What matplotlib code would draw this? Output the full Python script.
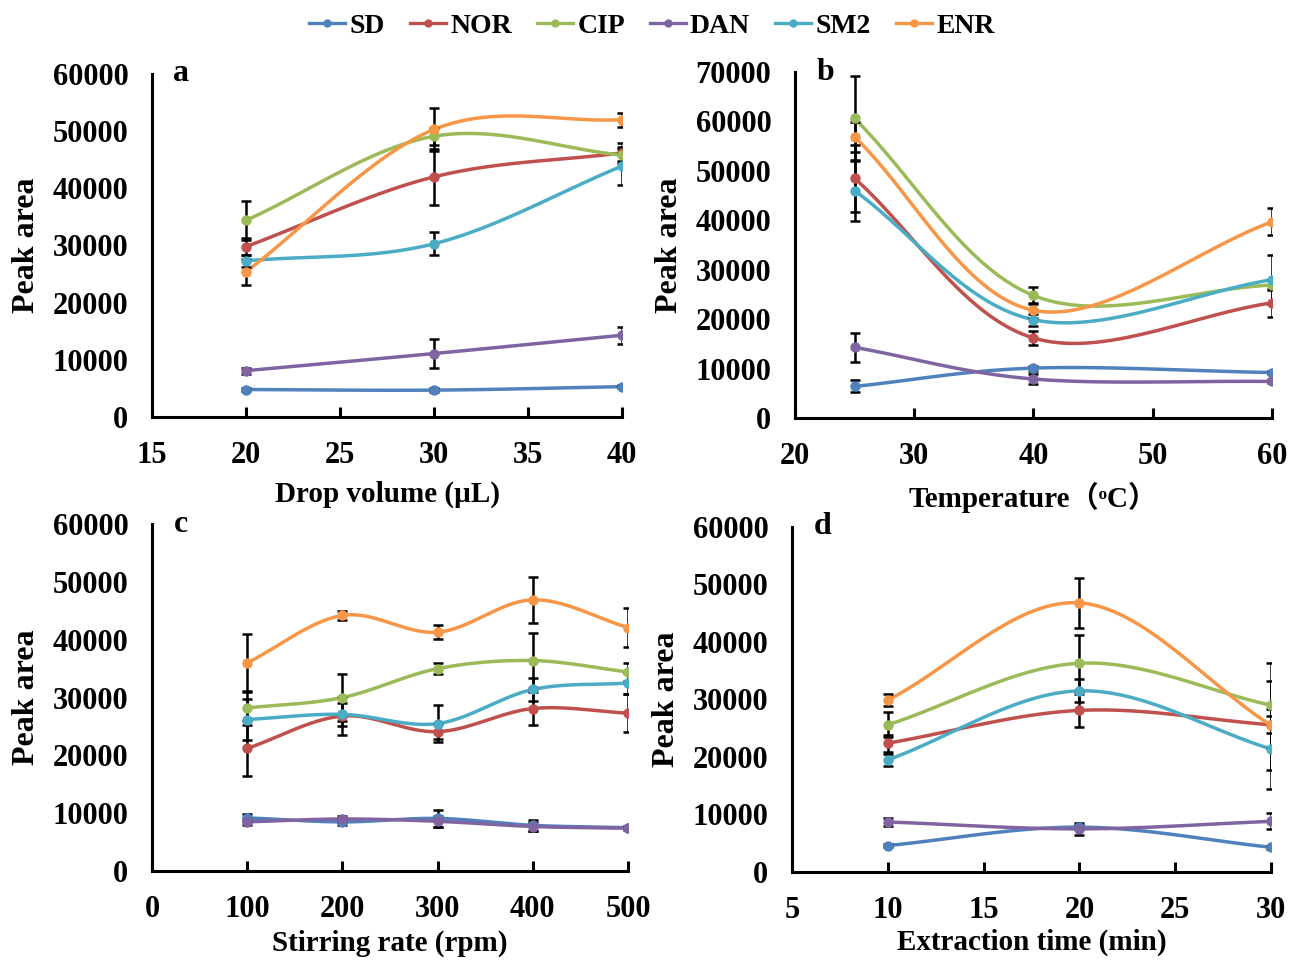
import numpy as np
import matplotlib
matplotlib.use('Agg')
import matplotlib.pyplot as plt
from matplotlib.lines import Line2D

plt.rcParams['font.family'] = ['Liberation Serif', 'Noto Sans CJK SC', 'DejaVu Serif']
plt.rcParams['font.weight'] = 'bold'

#---datos---#
compuestos = ['SD', 'NOR', 'CIP', 'DAN', 'SM2', 'ENR']
colores = ['#4F81BD', '#C0504D', '#9BBB59', '#8064A2', '#4BACC6', '#F79646']

# a: volumen de gota
x_vol = [20, 30, 40]
vol_vals = {
    'SD':  [4800, 4700, 5300],
    'NOR': [29800, 42000, 46200],
    'CIP': [34400, 49100, 45800],
    'DAN': [8100, 11100, 14300],
    'SM2': [27300, 30300, 43900],
    'ENR': [25400, 50300, 52000],
}
vol_err = {
    'SD':  [300, 300, 300],
    'NOR': [1500, 4900, 1800],
    'CIP': [3400, 1500, 1000],
    'DAN': [500, 2600, 1500],
    'SM2': [1000, 2000, 3400],
    'ENR': [2300, 3700, 1200],
}

# b: temperatura
x_temp = [25, 40, 60]
temp_vals = {
    'SD':  [6400, 10100, 9200],
    'NOR': [48500, 16200, 23300],
    'CIP': [60600, 24800, 26900],
    'DAN': [14300, 7900, 7400],
    'SM2': [46000, 19900, 28000],
    'ENR': [56900, 21800, 39700],
}
temp_err = {
    'SD':  [1200, 500, 300],
    'NOR': [6800, 1500, 2800],
    'CIP': [8500, 1800, 1000],
    'DAN': [3000, 1000, 400],
    'SM2': [6200, 1200, 4900],
    'ENR': [3000, 1500, 2700],
}

# c: velocidad de agitacion
x_agit = [100, 200, 300, 400, 500]
agit_vals = {
    'SD':  [9200, 8500, 9100, 7900, 7500],
    'NOR': [21200, 26800, 24100, 28100, 27300],
    'CIP': [28200, 30000, 35000, 36400, 34400],
    'DAN': [8500, 9000, 8600, 7700, 7400],
    'SM2': [26200, 27100, 25500, 31400, 32500],
    'ENR': [36000, 44200, 41300, 46900, 42100],
}
agit_err = {
    'SD':  [600, 500, 1500, 1000, 300],
    'NOR': [4800, 3300, 1300, 2900, 3300],
    'CIP': [3000, 4000, 1000, 4800, 1500],
    'DAN': [600, 500, 1000, 800, 300],
    'SM2': [3500, 2000, 3200, 2000, 1800],
    'ENR': [5000, 800, 1200, 4000, 3400],
}

# d: tiempo de extraccion
x_tiempo = [10, 20, 30]
tiempo_vals = {
    'SD':  [4600, 7800, 4300],
    'NOR': [22400, 28100, 25600],
    'CIP': [25600, 36300, 29000],
    'DAN': [8700, 7500, 8800],
    'SM2': [19500, 31500, 21400],
    'ENR': [29900, 46800, 25500],
}
tiempo_err = {
    'SD':  [300, 300, 300],
    'NOR': [1500, 2800, 1500],
    'CIP': [2200, 4900, 7400],
    'DAN': [700, 1000, 1400],
    'SM2': [1000, 2000, 6900],
    'ENR': [1000, 4400, 7700],
}

paneles = [
    ('a', x_vol, vol_vals, vol_err, (15, 40), [15, 20, 25, 30, 35, 40], 60000, 'Drop volume (\u00b5L)'),
    ('b', x_temp, temp_vals, temp_err, (20, 60), [20, 30, 40, 50, 60], 70000, 'Temperature\uff08\u1d52C\uff09'),
    ('c', x_agit, agit_vals, agit_err, (0, 500), [0, 100, 200, 300, 400, 500], 60000, 'Stirring rate (rpm)'),
    ('d', x_tiempo, tiempo_vals, tiempo_err, (5, 30), [5, 10, 15, 20, 25, 30], 60000, 'Extraction time (min)'),
]
posiciones = [
    [0.1173, 0.5670, 0.3627, 0.3562],
    [0.6134, 0.5659, 0.3680, 0.3593],
    [0.1173, 0.0955, 0.3673, 0.3603],
    [0.6111, 0.0945, 0.3696, 0.3583],
]
pads_xlabel = [8, 8, 4, 3]


def suavizar(xs, ys, sx, sy, n=40):
    # curva tipo excel (catmull-rom) en coordenadas normalizadas
    px = np.array(xs, float) / sx
    py = np.array(ys, float) / sy
    px = np.concatenate([[2 * px[0] - px[1]], px, [2 * px[-1] - px[-2]]])
    py = np.concatenate([[2 * py[0] - py[1]], py, [2 * py[-1] - py[-2]]])
    outx, outy = [], []
    t = np.linspace(0, 1, n)
    for i in range(1, len(px) - 2):
        for p, out in ((px, outx), (py, outy)):
            p0, p1, p2, p3 = p[i - 1], p[i], p[i + 1], p[i + 2]
            seg = 0.5 * ((2 * p1) + (-p0 + p2) * t + (2 * p0 - 5 * p1 + 4 * p2 - p3) * t ** 2
                         + (-p0 + 3 * p1 - 3 * p2 + p3) * t ** 3)
            out.extend(seg)
    return np.array(outx) * sx, np.array(outy) * sy


fig = plt.figure(figsize=(12.96, 9.63), dpi=100)

for (letra, xs, vals, errs, xlim, xticks, ymax, xlabel), pos, lp in zip(paneles, posiciones, pads_xlabel):
    ax = fig.add_axes(pos)
    sx = xlim[1] - xlim[0]
    for nombre, color in zip(compuestos, colores):
        cx, cy = suavizar(xs, vals[nombre], sx, ymax)
        ax.plot(cx, cy, color=color, lw=2.5, zorder=3)
    for nombre, color in zip(compuestos, colores):
        ax.errorbar(xs, vals[nombre], yerr=errs[nombre], fmt='none', ecolor='black',
                    elinewidth=1.8, capsize=3.5, capthick=1.8, zorder=4)
    for nombre, color in zip(compuestos, colores):
        ax.plot(xs, vals[nombre], 'o', color=color, ms=6.5, zorder=5)

    ax.set_xlim(xlim)
    ax.set_ylim(0, ymax)
    ax.set_xticks(xticks)
    ax.set_yticks(np.arange(0, ymax + 1, 10000))
    ax.spines['top'].set_visible(False)
    ax.spines['right'].set_visible(False)
    ax.spines['left'].set_linewidth(2.2)
    ax.spines['bottom'].set_linewidth(2.2)
    ax.tick_params(axis='x', direction='in', length=7, width=2.2, labelsize=22, pad=17)
    ax.tick_params(axis='y', length=0, labelsize=22, pad=17)
    for lab in ax.get_xticklabels() + ax.get_yticklabels():
        lab.set_fontweight('bold')
    ax.set_xlabel(xlabel, fontsize=21, fontweight='bold', labelpad=lp)
    ax.set_ylabel('Peak area', fontsize=23, fontweight='bold', labelpad=8)
    ax.text(0.045, 1.0, letra, transform=ax.transAxes, fontsize=23, fontweight='bold',
            ha='left', va='center')

handles = [Line2D([0], [0], color=c, lw=2.4, marker='o', ms=5) for c in colores]
fig.legend(handles, compuestos, loc='center', bbox_to_anchor=(0.503, 0.973), ncol=6,
           frameon=False, prop={'weight': 'bold', 'size': 20}, handlelength=1.3,
           handletextpad=0.15, columnspacing=0.9)

fig.savefig('out.png', dpi=100)
